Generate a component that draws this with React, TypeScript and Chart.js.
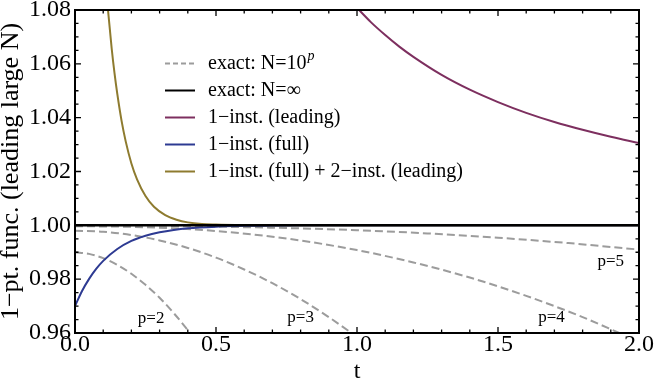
import React, { useEffect, useRef } from 'react';
import { Chart, registerables } from 'chart.js';

Chart.register(...registerables);

const SERIF = "'Liberation Serif', 'DejaVu Serif', serif";

// Axis ticks
const xTickValues = [0, 0.5, 1.0, 1.5, 2.0];
const yTickValues = [0.96, 0.98, 1.0, 1.02, 1.04, 1.06, 1.08];
const xMinorStep = 0.1;
const yMinorStep = 0.005;

// exact: N = 10^p
const tExact2 = [0, 0.05, 0.1, 0.15, 0.2, 0.25, 0.3, 0.35, 0.408, 0.45];
const vExact2 = [0.99, 0.9894, 0.9878, 0.9853, 0.982, 0.9779, 0.9731, 0.9674, 0.96, 0.9541];

const tExact3 = [0, 0.1, 0.2, 0.3, 0.4, 0.5, 0.6, 0.7, 0.8, 0.9, 0.98, 1.05];
const vExact3 = [0.998, 0.9976, 0.9964, 0.9944, 0.9916, 0.988, 0.9836, 0.9785, 0.9726, 0.9659, 0.96, 0.9545];

const tExact4 = [0, 0.25, 0.5, 0.75, 1.0, 1.2, 1.4, 1.6, 1.8, 1.93, 2.0];
const vExact4 = [0.9997, 0.9993, 0.9979, 0.9951, 0.9908, 0.9862, 0.9806, 0.9738, 0.9659, 0.96, 0.9568];

const tExact5 = [0, 0.25, 0.5, 0.75, 1.0, 1.25, 1.5, 1.75, 2.0];
const vExact5 = [0.99995, 0.9999, 0.9995, 0.999, 0.9982, 0.997, 0.9954, 0.9934, 0.991];

// exact: N = infinity
const tInf = [0, 2];
const vInf = [1.0, 1.0];

// 1-inst. (leading)
const tLead = [0.99, 1.05, 1.1, 1.15, 1.2, 1.3, 1.4, 1.5, 1.6, 1.7, 1.8, 1.9, 2.0];
const vLead = [1.0819, 1.0754, 1.0707, 1.0664, 1.0626, 1.0559, 1.0504, 1.0458, 1.0418, 1.0384, 1.0355, 1.0329, 1.0306];

// 1-inst. (full)
const tFull = [0, 0.025, 0.05, 0.075, 0.1, 0.15, 0.2, 0.25, 0.3, 0.35, 0.4, 0.5, 0.6, 0.7, 0.8, 2.0];
const vFull = [0.97, 0.9756, 0.9801, 0.9838, 0.9868, 0.9912, 0.9942, 0.9961, 0.9974, 0.9983, 0.9989, 0.9995, 0.9998, 0.9999, 1.0, 1.0];

// 1-inst. (full) + 2-inst. (leading)
const tTwo = [0.11, 0.117, 0.13, 0.14, 0.15, 0.165, 0.18, 0.2, 0.22, 0.25, 0.28, 0.32, 0.36, 0.4, 0.45, 0.5, 0.6, 0.7, 2.0];
const vTwo = [1.0889, 1.08, 1.0658, 1.0566, 1.0488, 1.0389, 1.0311, 1.023, 1.0171, 1.0109, 1.0069, 1.0038, 1.0021, 1.0011, 1.0005, 1.0003, 1.0001, 1.0, 1.0];

const legendLabels = [
  'exact: N=10',
  'exact: N=\u221E',
  '1\u2212inst. (leading)',
  '1\u2212inst. (full)',
  '1\u2212inst. (full) + 2\u2212inst. (leading)',
];

const pLabels = ['p=2', 'p=3', 'p=4', 'p=5'];
const pLabelT = [0.27, 0.8, 1.69, 1.9];
const pLabelV = [0.9655, 0.9658, 0.9658, 0.9865];

const GRAY = '#9c9c9c';
const PURPLE = '#7d2f5f';
const BLUE = '#2d3a92';
const OLIVE = '#8e7b2f';

const pts = (t: number[], v: number[]) => t.map((x, i) => ({ x, y: v[i] }));

const framePlugin = {
  id: 'frameAndLabels',
  afterDraw(chart: any) {
    const { ctx, chartArea: a, scales } = chart;
    const xs = scales.x;
    const ys = scales.y;
    ctx.save();

    // p labels
    ctx.fillStyle = '#000';
    ctx.font = `17px ${SERIF}`;
    ctx.textAlign = 'center';
    ctx.textBaseline = 'middle';
    pLabels.forEach((lab, i) => {
      ctx.fillText(lab, xs.getPixelForValue(pLabelT[i]), ys.getPixelForValue(pLabelV[i]));
    });

    // legend
    const styles = [
      { color: GRAY, dash: [5, 3] },
      { color: '#000', dash: [] },
      { color: PURPLE, dash: [] },
      { color: BLUE, dash: [] },
      { color: OLIVE, dash: [] },
    ];
    const x0 = 165, x1 = 195, tx = 208, y0 = 63.5, dy = 27;
    ctx.textAlign = 'left';
    legendLabels.forEach((lab, i) => {
      const y = y0 + i * dy;
      ctx.beginPath();
      ctx.setLineDash(styles[i].dash);
      ctx.strokeStyle = styles[i].color;
      ctx.lineWidth = 2;
      ctx.moveTo(x0, y);
      ctx.lineTo(x1, y);
      ctx.stroke();
      ctx.setLineDash([]);
      ctx.font = `20px ${SERIF}`;
      ctx.fillStyle = '#000';
      ctx.fillText(lab, tx, y);
      if (i === 0) {
        const w = ctx.measureText(lab).width;
        ctx.font = `italic 14px ${SERIF}`;
        ctx.fillText('p', tx + w + 1, y - 7);
      }
    });

    // frame ticks
    ctx.strokeStyle = '#000';
    ctx.lineWidth = 1.3;
    const nX = Math.round((xs.max - xs.min) / xMinorStep);
    for (let i = 0; i <= nX; i++) {
      const v = xs.min + i * xMinorStep;
      const major = xTickValues.some((t) => Math.abs(t - v) < 1e-9);
      const len = major ? 6 : 3.5;
      const px = xs.getPixelForValue(v);
      ctx.beginPath();
      ctx.moveTo(px, a.bottom);
      ctx.lineTo(px, a.bottom - len);
      ctx.moveTo(px, a.top);
      ctx.lineTo(px, a.top + len);
      ctx.stroke();
    }
    const nY = Math.round((ys.max - ys.min) / yMinorStep);
    for (let i = 0; i <= nY; i++) {
      const v = ys.min + i * yMinorStep;
      const major = yTickValues.some((t) => Math.abs(t - v) < 1e-9);
      const len = major ? 6 : 3.5;
      const py = ys.getPixelForValue(v);
      ctx.beginPath();
      ctx.moveTo(a.left, py);
      ctx.lineTo(a.left + len, py);
      ctx.moveTo(a.right, py);
      ctx.lineTo(a.right - len, py);
      ctx.stroke();
    }
    ctx.lineWidth = 2;
    ctx.strokeRect(a.left, a.top, a.right - a.left, a.bottom - a.top);
    ctx.restore();
  },
};

export default function App() {
  const ref = useRef<HTMLCanvasElement | null>(null);

  useEffect(() => {
    if (!ref.current) return;
    const dashed = (t: number[], v: number[]) => ({
      data: pts(t, v),
      borderColor: GRAY,
      borderWidth: 2,
      borderDash: [8, 4],
      pointRadius: 0,
      cubicInterpolationMode: 'monotone' as const,
      order: 5,
    });
    const chart = new Chart(ref.current, {
      type: 'line',
      data: {
        datasets: [
          dashed(tExact2, vExact2),
          dashed(tExact3, vExact3),
          dashed(tExact4, vExact4),
          dashed(tExact5, vExact5),
          { data: pts(tInf, vInf), borderColor: '#000', borderWidth: 2.5, pointRadius: 0, order: 0 },
          { data: pts(tLead, vLead), borderColor: PURPLE, borderWidth: 2, pointRadius: 0, cubicInterpolationMode: 'monotone', order: 2 },
          { data: pts(tFull, vFull), borderColor: BLUE, borderWidth: 2, pointRadius: 0, cubicInterpolationMode: 'monotone', order: 3 },
          { data: pts(tTwo, vTwo), borderColor: OLIVE, borderWidth: 2, pointRadius: 0, cubicInterpolationMode: 'monotone', order: 4 },
        ] as any,
      },
      options: {
        animation: false,
        responsive: false,
        layout: { padding: { left: 0, right: 15, top: 10, bottom: 0 } },
        plugins: { legend: { display: false }, tooltip: { enabled: false } },
        scales: {
          x: {
            type: 'linear',
            min: 0,
            max: 2,
            grid: { display: false, drawTicks: false },
            border: { display: false },
            ticks: {
              autoSkip: false,
              maxRotation: 0,
              padding: -3,
              color: '#000',
              font: { family: SERIF, size: 24 },
              callback: (v: any) => Number(v).toFixed(1),
            },
            afterBuildTicks: (s: any) => {
              s.ticks = xTickValues.map((value) => ({ value }));
            },
            afterFit: (s: any) => {
              s.height = 49;
              s.paddingLeft = 0;
              s.paddingRight = 0;
            },
            title: {
              display: true,
              text: 't',
              color: '#000',
              font: { family: SERIF, size: 24, lineHeight: 1 },
              padding: { top: 0, bottom: -2 },
            },
          },
          y: {
            type: 'linear',
            min: 0.96,
            max: 1.08,
            grid: { display: false, drawTicks: false },
            border: { display: false },
            ticks: {
              autoSkip: false,
              padding: 4,
              color: '#000',
              font: { family: SERIF, size: 24 },
              callback: (v: any) => Number(v).toFixed(2),
            },
            afterBuildTicks: (s: any) => {
              s.ticks = yTickValues.map((value) => ({ value }));
            },
            afterFit: (s: any) => {
              s.width = 75;
              s.paddingTop = 0;
              s.paddingBottom = 0;
            },
            title: {
              display: true,
              text: '1\u2212pt. func. (leading large N)',
              color: '#000',
              font: { family: SERIF, size: 26, lineHeight: 1 },
              padding: { top: -2, bottom: 0 },
            },
          },
        },
      },
      plugins: [framePlugin],
    });
    return () => chart.destroy();
  }, []);

  return (
    <div style={{ position: 'absolute', left: 0, top: 0, width: 654, height: 382, background: '#fff' }}>
      <canvas ref={ref} width={654} height={382} style={{ display: 'block' }} />
    </div>
  );
}
